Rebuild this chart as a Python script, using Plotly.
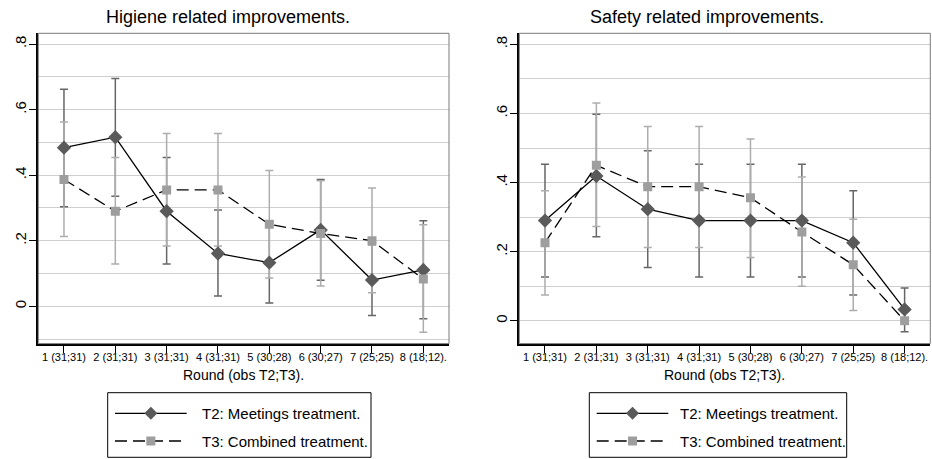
import plotly.graph_objects as go

# ---------------- data ----------------
round_labels = ["1 (31;31)", "2 (31;31)", "3 (31;31)", "4 (31;31)",
                "5 (30;28)", "6 (30;27)", "7 (25;25)", "8 (18;12)."]
rounds = [1, 2, 3, 4, 5, 6, 7, 8]

hyg_t2_mean = [0.484, 0.516, 0.290, 0.161, 0.133, 0.233, 0.080, 0.111]
hyg_t2_lo   = [0.304, 0.336, 0.129, 0.031, 0.010, 0.079, -0.028, -0.038]
hyg_t2_hi   = [0.662, 0.695, 0.454, 0.294, 0.256, 0.387, 0.188, 0.261]
hyg_t3_mean = [0.387, 0.290, 0.355, 0.355, 0.250, 0.222, 0.200, 0.083]
hyg_t3_lo   = [0.213, 0.129, 0.184, 0.184, 0.086, 0.062, 0.041, -0.079]
hyg_t3_hi   = [0.562, 0.454, 0.527, 0.527, 0.414, 0.383, 0.361, 0.249]

saf_t2_mean = [0.290, 0.419, 0.323, 0.290, 0.290, 0.290, 0.226, 0.033]
saf_t2_lo   = [0.127, 0.243, 0.154, 0.127, 0.127, 0.127, 0.075, -0.032]
saf_t2_hi   = [0.453, 0.598, 0.492, 0.453, 0.453, 0.453, 0.376, 0.095]
saf_t3_mean = [0.226, 0.450, 0.388, 0.388, 0.356, 0.257, 0.162, 0.000]
saf_t3_lo   = [0.075, 0.273, 0.212, 0.212, 0.183, 0.100, 0.030, 0.000]
saf_t3_hi   = [0.376, 0.630, 0.562, 0.562, 0.526, 0.416, 0.294, 0.000]

panel_titles = ["Higiene related improvements.", "Safety related improvements."]
series_names = ["T2: Meetings treatment.", "T3: Combined treatment."]
x_title = "Round (obs T2;T3)."
y_tickvals = [0, 0.2, 0.4, 0.6, 0.8]
y_ticktext = ["0", ".2", ".4", ".6", ".8"]

# ---------------- style ----------------
W, H = 932, 459
FONT = "Liberation Sans, Arial, sans-serif"
T2_MARK = "#5a5a5a"
T2_BAR = "#666666"
T3_MARK = "#9e9e9e"
T3_BAR = "#adadad"
DASH = "12px,6px"

def px(x):
    return x / W

def py(y):
    return 1 - y / H

fig = go.Figure()

panels = [
    dict(xa="x", ya="y", t2=(hyg_t2_mean, hyg_t2_lo, hyg_t2_hi),
         t3=(hyg_t3_mean, hyg_t3_lo, hyg_t3_hi)),
    dict(xa="x2", ya="y2", t2=(saf_t2_mean, saf_t2_lo, saf_t2_hi),
         t3=(saf_t3_mean, saf_t3_lo, saf_t3_hi)),
]

for p in panels:
    for (m, lo, hi), col in ((p["t2"], T2_BAR), (p["t3"], T3_BAR)):
        fig.add_trace(go.Scatter(
            x=rounds, y=m, mode="markers", xaxis=p["xa"], yaxis=p["ya"],
            marker=dict(size=1, opacity=0), showlegend=False, hoverinfo="skip",
            error_y=dict(type="data", symmetric=False,
                         array=[h - v for h, v in zip(hi, m)],
                         arrayminus=[v - l for v, l in zip(m, lo)],
                         color=col, thickness=1.5, width=4)))
    m2 = p["t2"][0]
    m3 = p["t3"][0]
    fig.add_trace(go.Scatter(
        x=rounds, y=m2, mode="lines+markers", xaxis=p["xa"], yaxis=p["ya"],
        line=dict(color="black", width=1.3),
        marker=dict(symbol="diamond", size=11, color=T2_MARK),
        showlegend=False))
    fig.add_trace(go.Scatter(
        x=rounds, y=m3, mode="lines+markers", xaxis=p["xa"], yaxis=p["ya"],
        line=dict(color="black", width=1.3, dash=DASH),
        marker=dict(symbol="square", size=9, color=T3_MARK),
        showlegend=False))

# plot area geometry (pixels)
left_x = (38.3, 449.0)
right_x = (519.3, 930.3)
top_y, bot_y = 33.3, 343.6

def xaxis_cfg(dom):
    return dict(domain=[px(dom[0]), px(dom[1])], range=[0.5, 8.5],
                tickvals=rounds, ticktext=round_labels,
                tickfont=dict(family=FONT, size=11, color="black"),
                ticks="outside", ticklen=7, tickwidth=1.2, tickcolor="black",
                ticklabelstandoff=-5,
                showline=True, linecolor="black", linewidth=1.8,
                showgrid=False, zeroline=False, fixedrange=True,
                automargin=False, tickangle=0)

def yaxis_cfg(rng, anchor):
    return dict(domain=[py(bot_y), py(top_y)], range=rng, anchor=anchor,
                tickvals=y_tickvals, ticktext=y_ticktext, tickangle=-90,
                tickfont=dict(family=FONT, size=15, color="black"),
                ticks="outside", ticklen=7, tickwidth=1.2, tickcolor="black",
                ticklabelstandoff=-3,
                showline=True, linecolor="black", linewidth=1.8,
                showgrid=True, gridcolor="#cfcfcf", gridwidth=1,
                minor=dict(dtick=0.1, tick0=0, showgrid=True,
                           gridcolor="#cfcfcf", gridwidth=1, ticks=""),
                zeroline=False, fixedrange=True, automargin=False)

shapes = []
annotations = []

for dom, title, tcx in ((left_x, panel_titles[0], 228), (right_x, panel_titles[1], 707)):
    # plot region border
    shapes.append(dict(type="rect", xref="paper", yref="paper",
                       x0=px(dom[0]), x1=px(dom[1]), y0=py(bot_y), y1=py(top_y),
                       line=dict(color="#7a7a7a", width=1), layer="above"))
    annotations.append(dict(text=title, x=px(tcx), y=py(17), xref="paper", yref="paper",
                            xanchor="center", yanchor="middle", showarrow=False,
                            font=dict(family=FONT, size=18, color="black")))
    annotations.append(dict(text=x_title, x=px((dom[0] + dom[1]) / 2), y=py(375),
                            xref="paper", yref="paper", xanchor="center",
                            yanchor="middle", showarrow=False,
                            font=dict(family=FONT, size=14, color="black")))

# manual legends
legends = [
    dict(box=(107.7, 371.0), line=(115.0, 186.7), text_x=200.0),
    dict(box=(589.3, 846.7), line=(596.7, 668.3), text_x=678.3),
]
box_top, box_bot = 392.7, 457.3
row_y = [413.3, 441.0]
for lg in legends:
    shapes.append(dict(type="rect", xref="paper", yref="paper",
                       x0=px(lg["box"][0]), x1=px(lg["box"][1]),
                       y0=py(box_bot), y1=py(box_top),
                       line=dict(color="black", width=1)))
    x0, x1 = lg["line"]
    cx = (x0 + x1) / 2
    # T2 row
    shapes.append(dict(type="line", xref="paper", yref="paper",
                       x0=px(x0), x1=px(x1), y0=py(row_y[0]), y1=py(row_y[0]),
                       line=dict(color="black", width=1.3)))
    d = 6.5
    shapes.append(dict(type="path", xref="paper", yref="paper",
                       path=f"M {px(cx - d)},{py(row_y[0])} L {px(cx)},{py(row_y[0] - d)} "
                            f"L {px(cx + d)},{py(row_y[0])} L {px(cx)},{py(row_y[0] + d)} Z",
                       fillcolor=T2_MARK, line=dict(width=0)))
    # T3 row
    shapes.append(dict(type="line", xref="paper", yref="paper",
                       x0=px(x0), x1=px(x1), y0=py(row_y[1]), y1=py(row_y[1]),
                       line=dict(color="black", width=1.3, dash=DASH)))
    s = 4.5
    shapes.append(dict(type="rect", xref="paper", yref="paper",
                       x0=px(cx - s), x1=px(cx + s), y0=py(row_y[1] + s), y1=py(row_y[1] - s),
                       fillcolor=T3_MARK, line=dict(width=0)))
    for name, ry in zip(series_names, row_y):
        annotations.append(dict(text=name, x=px(lg["text_x"]), y=py(ry),
                                xref="paper", yref="paper", xanchor="left",
                                yanchor="middle", showarrow=False,
                                font=dict(family=FONT, size=15, color="black")))

fig.update_layout(
    width=W, height=H,
    margin=dict(l=0, r=0, t=0, b=0),
    paper_bgcolor="white", plot_bgcolor="white",
    showlegend=False,
    xaxis=xaxis_cfg(left_x) | dict(anchor="y"),
    yaxis=yaxis_cfg([-0.114, 0.833], "x"),
    xaxis2=xaxis_cfg(right_x) | dict(anchor="y2"),
    yaxis2=yaxis_cfg([-0.066, 0.832], "x2"),
    shapes=shapes,
    annotations=annotations,
    font=dict(family=FONT, color="black"),
)

fig.write_html("out.html", config=dict(displayModeBar=False))
